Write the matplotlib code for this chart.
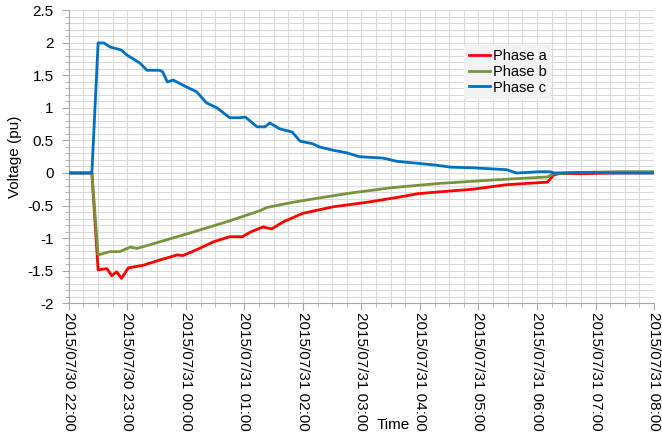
import numpy as np
import pandas as pd
import matplotlib
matplotlib.use("Agg")
import matplotlib.pyplot as plt
import matplotlib.dates as mdates
from matplotlib.ticker import MultipleLocator

plt.rcParams['font.family'] = ['Liberation Sans', 'DejaVu Sans']

start = pd.Timestamp('2015-07-30 22:00')

# minutes after 22:00 and per-unit voltage of each phase
min_a = [0, 23.6, 30, 39, 44, 49, 54, 61, 76, 93, 111, 117, 134, 148, 165, 178, 186,
         199, 208, 220, 240, 271, 306, 339, 357, 380, 414, 449, 491, 497, 503, 530, 560, 600]
phase_a = [0, 0, -1.49, -1.47, -1.58, -1.52, -1.62, -1.46, -1.42, -1.34, -1.26, -1.27,
           -1.16, -1.06, -0.98, -0.98, -0.91, -0.83, -0.86, -0.75, -0.62, -0.52, -0.45,
           -0.37, -0.32, -0.29, -0.25, -0.18, -0.14, -0.03, -0.01, -0.01, 0.0, 0.0]

min_b = [0, 23.6, 30, 42, 52, 63, 70, 93, 127, 162, 178, 196, 203, 230, 254, 288, 329,
         350, 380, 391, 432, 491, 497, 530, 560, 600]
phase_b = [0, 0, -1.26, -1.21, -1.21, -1.14, -1.16, -1.06, -0.91, -0.75, -0.67, -0.58,
           -0.53, -0.45, -0.39, -0.31, -0.23, -0.20, -0.16, -0.15, -0.11, -0.06, -0.01,
           0.01, 0.02, 0.02]

min_c = [0, 23.6, 30, 36, 42, 54, 59, 73, 80, 93, 96, 101, 107, 121, 131, 141, 152, 165,
         175, 181, 193, 201, 206, 216, 229, 237, 250, 257, 271, 285, 298, 322, 336, 357,
         377, 391, 414, 449, 459, 483, 493, 498, 530, 560, 600]
phase_c = [0, 0, 2.0, 2.0, 1.94, 1.89, 1.82, 1.69, 1.58, 1.58, 1.56, 1.40, 1.43, 1.32,
           1.25, 1.08, 1.0, 0.85, 0.85, 0.86, 0.71, 0.71, 0.77, 0.68, 0.63, 0.49, 0.45,
           0.40, 0.35, 0.31, 0.25, 0.23, 0.18, 0.15, 0.12, 0.09, 0.08, 0.05, 0.0, 0.02,
           0.02, 0.0, 0.01, 0.0, 0.0]


def to_time(mins):
    return start + pd.to_timedelta(mins, unit='min')


fig = plt.figure(figsize=(6.62, 4.36), dpi=100)
ax = fig.add_axes([0.104, 0.305, 0.884, 0.671])

ax.plot(to_time(min_a), phase_a, color='#ff0000', lw=2.0, label='Phase a', zorder=3)
ax.plot(to_time(min_b), phase_b, color='#77933c', lw=2.0, label='Phase b', zorder=3)
ax.plot(to_time(min_c), phase_c, color='#0070c0', lw=2.0, label='Phase c', zorder=4)

ax.set_xlim(start, start + pd.Timedelta(hours=10))
ax.set_ylim(-2, 2.5)
ax.xaxis.set_major_locator(mdates.HourLocator())
ax.xaxis.set_minor_locator(mdates.MinuteLocator(byminute=[15, 30, 45]))
ax.xaxis.set_major_formatter(mdates.DateFormatter('%Y/%m/%d %H:%M'))
ax.yaxis.set_major_locator(MultipleLocator(0.5))
ax.yaxis.set_minor_locator(MultipleLocator(0.1))
ax.yaxis.set_major_formatter(matplotlib.ticker.FuncFormatter(lambda v, p: '%g' % v))

ax.grid(which='both', color='#d9d9d9', lw=0.8)
ax.set_axisbelow(True)
for s in ['top', 'right']:
    ax.spines[s].set_visible(False)
for s in ['left', 'bottom']:
    ax.spines[s].set_color('#a6a6a6')
ax.tick_params(which='both', direction='out', color='#a6a6a6', labelsize=11)
ax.tick_params(which='major', length=5)
ax.tick_params(which='minor', length=3)
ax.tick_params(axis='x', which='major', pad=1.5)
ax.tick_params(axis='y', which='major', pad=6)
plt.setp(ax.get_xticklabels(), rotation=270, ha='center', va='top')

ax.set_ylabel('Voltage (pu)', fontsize=11, labelpad=4)
fig.text(393 / 662, 1 - 425 / 436, 'Time', fontsize=11, ha='center', va='center')

leg = ax.legend(loc='upper left', bbox_to_anchor=(0.663, 0.908), frameon=True,
                fontsize=10.5, handlelength=1.5, labelspacing=0.12, borderpad=0.3,
                handletextpad=0.15, fancybox=False)
leg.get_frame().set_facecolor('#f2f2f2')
leg.get_frame().set_edgecolor('none')
leg.get_frame().set_alpha(1)

fig.savefig('out.png', dpi=100)
